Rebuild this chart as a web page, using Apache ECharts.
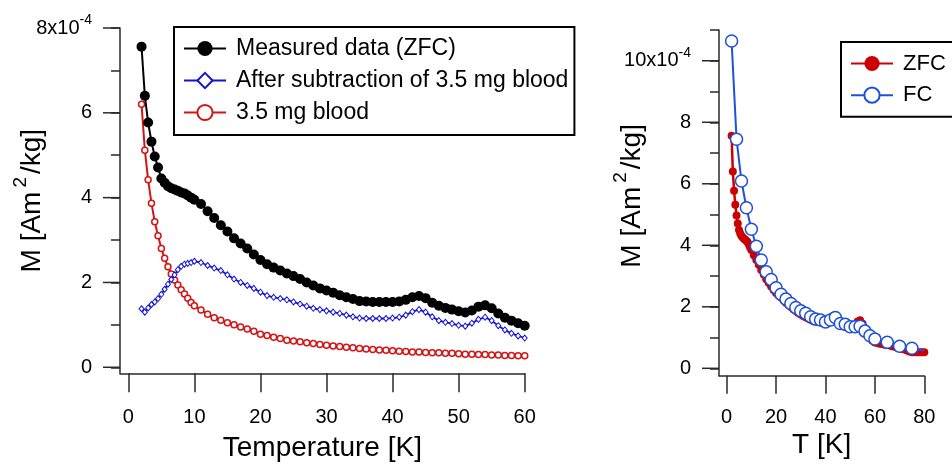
<!DOCTYPE html>
<html>
<head>
<meta charset="utf-8">
<script src="https://cdn.jsdelivr.net/npm/echarts@6/dist/echarts.min.js"></script>
<style>
html,body{margin:0;padding:0;background:#fff;}
#chart{width:952px;height:464px;}
</style>
</head>
<body>
<div id="chart"></div>
<script>
// ---- Left panel data (M in units of 1e-4 Am^2/kg) ----
var tLeft = [2,2.5,3,3.5,4,4.5,5,5.5,6,6.5,7,7.5,8,8.5,9,9.5,10,
  11,12,13,14,15,16,17,18,19,20,21,22,23,24,25,26,27,28,29,30,
  31,32,33,34,35,36,37,38,39,40,41,42,43,44,45,46,47,48,49,50,
  51,52,53,54,55,56,57,58,59,60];
var measuredZFC = [7.56,6.40,5.77,5.32,4.97,4.71,4.45,4.35,4.27,4.22,4.19,4.16,4.12,4.10,4.05,4.00,3.95,
  3.85,3.68,3.52,3.35,3.20,3.04,2.92,2.80,2.66,2.53,2.43,2.35,2.28,2.21,2.15,2.08,2.00,1.93,1.86,1.81,
  1.76,1.70,1.65,1.61,1.56,1.55,1.54,1.54,1.54,1.54,1.55,1.59,1.65,1.68,1.63,1.52,1.45,1.40,1.36,1.32,
  1.29,1.34,1.43,1.46,1.39,1.27,1.17,1.10,1.04,0.98];
var afterSubtraction = [1.38,1.30,1.40,1.48,1.54,1.62,1.72,1.84,1.96,2.07,2.18,2.30,2.38,2.43,2.45,2.47,2.50,
  2.47,2.40,2.34,2.28,2.18,2.08,2.00,1.93,1.86,1.77,1.69,1.65,1.62,1.59,1.54,1.49,1.44,1.39,1.36,1.33,
  1.30,1.27,1.23,1.19,1.16,1.15,1.15,1.15,1.15,1.16,1.18,1.23,1.31,1.36,1.30,1.19,1.10,1.06,1.03,0.99,
  0.97,1.04,1.13,1.18,1.10,0.98,0.88,0.80,0.74,0.69];
var blood = [6.20,5.12,4.42,3.87,3.43,3.10,2.80,2.57,2.37,2.20,2.06,1.94,1.83,1.73,1.63,1.53,1.45,
  1.35,1.25,1.17,1.11,1.05,1.00,0.95,0.90,0.85,0.78,0.75,0.71,0.68,0.64,0.62,0.60,0.58,0.56,0.54,0.52,
  0.50,0.49,0.47,0.46,0.44,0.43,0.42,0.41,0.40,0.39,0.38,0.37,0.36,0.36,0.35,0.34,0.34,0.33,0.33,0.32,
  0.31,0.31,0.30,0.30,0.29,0.29,0.28,0.28,0.27,0.27];

// ---- Right panel data ----
var tZfc = [2,2.5,3,3.5,4,4.5,5,5.5,6,6.5,7,7.5,8,8.5,9,9.5,10,
  11,12,13,14,15,16,17,18,19,20,21,22,23,24,25,26,27,28,29,30,
  31,32,33,34,35,36,37,38,39,40,41,42,43,44,45,46,47,48,49,50,
  51,52,53,54,55,56,57,58,59,60,61,62,63,64,65,66,67,68,69,70,
  71,72,73,74,75,76,77,78,79,80];
var zfc = [7.56,6.40,5.77,5.32,4.97,4.71,4.50,4.38,4.30,4.25,4.21,4.18,4.15,4.10,4.02,3.93,3.85,
  3.68,3.52,3.37,3.20,3.05,2.90,2.78,2.66,2.55,2.45,2.37,2.30,2.22,2.13,2.06,1.99,1.92,1.86,1.80,1.75,
  1.70,1.66,1.62,1.58,1.54,1.52,1.51,1.50,1.50,1.51,1.54,1.61,1.70,1.73,1.62,1.47,1.38,1.34,1.32,1.30,
  1.30,1.38,1.52,1.56,1.45,1.30,1.15,1.02,0.90,0.84,0.82,0.80,0.79,0.77,0.76,0.74,0.72,0.70,0.67,0.65,
  0.63,0.61,0.58,0.55,0.52,0.52,0.52,0.52,0.52,0.52];
var tFc = [2,4,6,8,10,12,14,16,18,20,22,24,26,28,30,32,34,36,38,40,42,44,46,48,50,52,54,56,58,60,65,70,75,80];
var fc = [10.64,7.45,6.09,5.22,4.52,3.97,3.52,3.14,2.89,2.62,2.41,2.25,2.11,1.98,1.87,1.79,1.68,1.60,1.57,1.51,
  1.57,1.65,1.46,1.43,1.35,1.35,1.37,1.21,1.06,0.95,0.85,0.72,0.65,0.57];

// ---- Axis ticks ----
var leftXTicks = [0,10,20,30,40,50,60];
var leftYLabels = [0,2,4,6,8];
var leftYAllTicks = [0,1,2,3,4,5,6,7,8];
var rightXTicks = [0,20,40,60,80];
var rightYLabels = [0,2,4,6,8,10];
var rightYAllTicks = [0,1,2,3,4,5,6,7,8,9,10,11];

var FONT = 'Liberation Sans, Arial, sans-serif';
function zip(xs, ys){ return xs.map(function(x,i){ return [x, ys[i]]; }); }

var axisCol = '#2a2a2a';
var LEFT_X_MIN = -1.26, LEFT_X_MAX = 60, LEFT_Y_MIN = -0.142, LEFT_Y_MAX = 8;
var RIGHT_X_MIN = -3.1, RIGHT_X_MAX = 80, RIGHT_Y_MIN = -0.24, RIGHT_Y_MAX = 11;

function gridCfg(l, t, w, h){
  return {left:l, top:t, width:w, height:h, outerBoundsMode:'none', containLabel:false};
}
function xAxisCfg(grid, min, max, ticks, margin, name, nameGap, tickLen){
  return {
    type:'value', gridIndex:grid, min:min, max:max, position:'bottom',
    axisLine:{show:true, onZero:false, lineStyle:{color:axisCol, width:1.5}},
    axisTick:{show:true, customValues:ticks, length:tickLen, lineStyle:{color:axisCol, width:1.5}},
    axisLabel:{show:true, customValues:ticks, margin:margin, fontSize:20, color:'#000', fontFamily:FONT},
    splitLine:{show:false},
    name:name, nameLocation:'middle', nameGap:nameGap, nameMoveOverlap:false,
    nameTextStyle:{fontSize:28, color:'#000', fontFamily:FONT}
  };
}
// y axis: every integer gets a short (minor-length) tick; labelled values get a longer mark
// added by the custom series below.
function yAxisCfg(grid, min, max, allTicks, labels, topVal, nameGap, namePad){
  return {
    type:'value', gridIndex:grid, min:min, max:max, position:'left',
    axisLine:{show:true, onZero:false, lineStyle:{color:axisCol, width:1.5}},
    axisTick:{show:true, customValues:allTicks, length:9, lineStyle:{color:axisCol, width:1.5}},
    axisLabel:{show:true, customValues:labels, margin:28, fontSize:20, color:'#000', fontFamily:FONT,
      formatter:function(v){ return v === topVal ? ('{b|' + v + 'x10}{sup|-4}') : ('{b|' + v + '}'); },
      rich:{
        b:{fontSize:20, lineHeight:30, color:'#000', fontFamily:FONT},
        sup:{fontSize:14, lineHeight:13, verticalAlign:'top', color:'#000', fontFamily:FONT}
      }},
    splitLine:{show:false},
    name:'{b|M [Am}{sup|2}{b|/kg]}', nameLocation:'middle', nameGap:nameGap, nameMoveOverlap:false,
    nameTextStyle:{fontSize:28, color:'#000', fontFamily:FONT, padding:namePad,
      rich:{
        b:{fontSize:28, lineHeight:42, color:'#000', fontFamily:FONT},
        sup:{fontSize:19, lineHeight:16, verticalAlign:'top', color:'#000', fontFamily:FONT, padding:[0,3,0,4]}
      }}
  };
}
// Major y ticks: full-length outward marks on the left axis line, placed through the axis scale.
function majorTickSeries(xIdx, yIdx, xMin, values){
  return {
    type:'custom', coordinateSystem:'cartesian2d', xAxisIndex:xIdx, yAxisIndex:yIdx,
    silent:true, clip:false, z:10,
    data:values.map(function(v){ return [xMin, v]; }),
    renderItem:function(params, api){
      var p = api.coord([api.value(0), api.value(1)]);
      return {type:'line', shape:{x1:p[0]-17, y1:p[1], x2:p[0], y2:p[1]},
        style:{stroke:axisCol, lineWidth:1.5}};
    }
  };
}

var option = {
  animation:false,
  backgroundColor:'#fff',
  textStyle:{fontFamily:FONT},
  grid:[gridCfg(120, 28, 404.7, 345.3), gridCfg(719, 30, 205.3, 345.7)],
  xAxis:[
    xAxisCfg(0, LEFT_X_MIN, LEFT_X_MAX, leftXTicks, 34, 'Temperature [K]', 61, 19),
    xAxisCfg(1, RIGHT_X_MIN, RIGHT_X_MAX, rightXTicks, 31.5, 'T [K]', 56, 18)
  ],
  yAxis:[
    yAxisCfg(0, LEFT_Y_MIN, LEFT_Y_MAX, leftYAllTicks, leftYLabels, 8, 67, [0,0,0,0]),
    yAxisCfg(1, RIGHT_Y_MIN, RIGHT_Y_MAX, rightYAllTicks, rightYLabels, 10, 66, [0,0,0,14])
  ],
  legend:[
    {
      orient:'vertical', left:174, top:27,
      itemWidth:42, itemHeight:19, itemGap:9,
      padding:[10,6,11,9],
      borderColor:'#000', borderWidth:2, backgroundColor:'#fff',
      textStyle:{fontSize:23, color:'#000', fontFamily:FONT, lineHeight:19, padding:[0,0,0,5]},
      data:['Measured data (ZFC)','After subtraction of 3.5 mg blood','3.5 mg blood']
    },
    {
      orient:'vertical', left:841, top:42,
      itemWidth:42, itemHeight:19, itemGap:9.7,
      padding:[10.5,8,10.5,9],
      borderColor:'#000', borderWidth:2, backgroundColor:'#fff',
      textStyle:{fontSize:22, color:'#000', fontFamily:FONT, lineHeight:19, padding:[0,0,0,5]},
      data:['ZFC','FC']
    }
  ],
  series:[
    majorTickSeries(0, 0, LEFT_X_MIN, leftYLabels),
    majorTickSeries(1, 1, RIGHT_X_MIN, rightYLabels),
    {
      name:'3.5 mg blood', type:'line', xAxisIndex:0, yAxisIndex:0,
      data:zip(tLeft, blood),
      symbol:'circle', symbolSize:6,
      lineStyle:{color:'#d41414', width:2},
      itemStyle:{color:'#fff', borderColor:'#d41414', borderWidth:1.5},
      z:3
    },
    {
      name:'After subtraction of 3.5 mg blood', type:'line', xAxisIndex:0, yAxisIndex:0,
      data:zip(tLeft, afterSubtraction),
      symbol:'diamond', symbolSize:[5,6],
      lineStyle:{color:'#1414d0', width:1.8},
      itemStyle:{color:'#fff', borderColor:'#1414d0', borderWidth:1},
      z:4
    },
    {
      name:'Measured data (ZFC)', type:'line', xAxisIndex:0, yAxisIndex:0,
      data:zip(tLeft, measuredZFC),
      symbol:'circle', symbolSize:10,
      lineStyle:{color:'#000', width:2},
      itemStyle:{color:'#000', borderWidth:0},
      z:5
    },
    {
      name:'ZFC', type:'line', xAxisIndex:1, yAxisIndex:1,
      data:zip(tZfc, zfc),
      symbol:'circle', symbolSize:8,
      lineStyle:{color:'#cc0000', width:2.5},
      itemStyle:{color:'#cc0000', borderWidth:0},
      z:3
    },
    {
      name:'FC', type:'line', xAxisIndex:1, yAxisIndex:1,
      data:tFc.map(function(t,i){
        var item = {value:[t, fc[i]]};
        if (i === tFc.length - 1) item.symbol = 'none';
        return item;
      }),
      symbol:'circle', symbolSize:12,
      lineStyle:{color:'#1e50d8', width:2},
      itemStyle:{color:'#fff', borderColor:'#1e50d8', borderWidth:1.5},
      z:4
    }
  ]
};

var chart = echarts.init(document.getElementById('chart'), null, {renderer:'canvas'});
chart.setOption(option);
</script>
</body>
</html>
